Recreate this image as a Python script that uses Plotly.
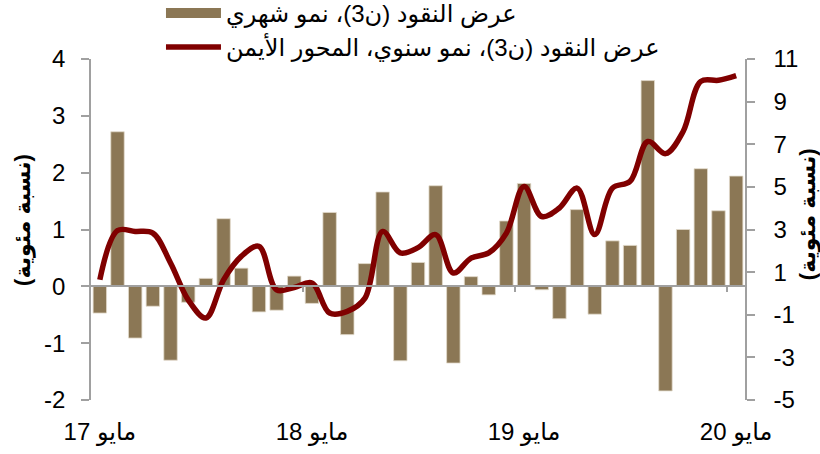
import plotly.graph_objects as go

months = list(range(37))
tick_pos = [0, 12, 24, 36]
tick_labels = ["مايو 17", "مايو 18", "مايو 19", "مايو 20"]

left_ticks = [-2, -1, 0, 1, 2, 3, 4]
right_ticks = [-5, -3, -1, 1, 3, 5, 7, 9, 11]

monthly_growth = [-0.47, 2.72, -0.91, -0.35, -1.30, -0.28, 0.14, 1.19, 0.32, -0.45,
                  -0.42, 0.18, -0.30, 1.30, -0.85, 0.40, 1.66, -1.31, 0.42, 1.77,
                  -1.35, 0.17, -0.15, 1.15, 1.81, -0.06, -0.57, 1.35, -0.49, 0.80,
                  0.72, 3.62, -1.84, 1.00, 2.07, 1.33, 1.94]

annual_growth = [0.64, 2.95, 2.91, 2.83, 1.43, -0.30, -1.15, 0.64, 1.74, 2.21,
                 0.17, 0.28, 0.49, -0.92, -0.84, -0.22, 2.91, 1.90, 2.15, 2.76,
                 0.96, 1.66, 1.90, 2.83, 5.02, 3.61, 4.01, 4.94, 2.76, 4.94,
                 5.26, 7.13, 6.56, 7.60, 9.95, 10.0, 10.22]

name_monthly = "عرض النقود (ن3)، نمو شهري"
name_annual = "عرض النقود (ن3)، نمو سنوي، المحور الأيمن"
axis_title = "(نسبة مئوية)"

BAR = "#8B7755"
LINE = "#800000"
AX = "#A0A0A0"
FONT = "Liberation Sans, Arial, DejaVu Sans, sans-serif"

fig = go.Figure()
fig.add_bar(x=months, y=monthly_growth, xaxis="x", yaxis="y", showlegend=False,
            marker=dict(color=BAR, line=dict(color="#E2DACB", width=0.8)), width=0.76)
# legend proxy for the bar series
fig.add_scatter(x=[None], y=[None], xaxis="x", yaxis="y", mode="lines", name=name_monthly,
                line=dict(color=BAR, width=14))
fig.add_scatter(x=months, y=annual_growth, xaxis="x2", yaxis="y2", mode="lines", name=name_annual,
                line=dict(color=LINE, width=5.5, shape="spline", smoothing=1.0))

title_font = dict(size=22, family=FONT, weight="bold", color="black")

fig.update_layout(
    width=820, height=454,
    margin=dict(l=91, r=75, t=59, b=54, autoexpand=False),
    paper_bgcolor="white", plot_bgcolor="white",
    font=dict(family=FONT, size=24, color="black"),
    bargap=0.24,
    legend=dict(x=0.107, y=1.2, xanchor="left", yanchor="top", bgcolor="rgba(0,0,0,0)",
                font=dict(size=24), itemwidth=55, tracegroupgap=0, traceorder="normal"),
    xaxis=dict(domain=[0, 1], range=[-0.5, 36.5], anchor="free", position=1/3,
               showline=True, linecolor=AX, linewidth=1.5, showgrid=False, zeroline=False,
               ticks="outside", tickvals=[11.5, 23.5, 35.5], ticklen=5, tickcolor=AX,
               tickwidth=1.5, showticklabels=False),
    xaxis2=dict(overlaying="x", range=[-0.5, 36.5], anchor="y2", side="bottom",
                showline=False, showgrid=False, zeroline=False,
                ticks="outside", ticklen=10, tickcolor="rgba(0,0,0,0)",
                tickvals=tick_pos, ticktext=tick_labels, tickfont=dict(size=24)),
    yaxis=dict(domain=[0, 1], range=[-2, 4], tickvals=left_ticks,
               ticktext=[str(v) for v in left_ticks],
               anchor="x", showline=True, linecolor=AX, linewidth=1.5, showgrid=False,
               zeroline=False, ticks="outside", ticklen=8, tickcolor=AX, tickwidth=1.5,
               tickfont=dict(size=24), ticklabelstandoff=11),
    yaxis2=dict(overlaying="y", side="right", anchor="x2", range=[-5, 11],
                tickvals=right_ticks, ticktext=[str(v) for v in right_ticks],
                showline=True, linecolor=AX, linewidth=1.5, showgrid=False, zeroline=False,
                ticks="outside", ticklen=8, tickcolor=AX, tickwidth=1.5,
                tickfont=dict(size=24), ticklabelstandoff=14),
    annotations=[
        dict(text=axis_title, xref="paper", yref="paper", x=-0.104, y=0.528,
             xanchor="center", yanchor="middle", textangle=-90, showarrow=False, font=title_font),
        dict(text=axis_title, xref="paper", yref="paper", x=1.0963, y=0.545,
             xanchor="center", yanchor="middle", textangle=-90, showarrow=False, font=title_font),
    ],
)

fig.write_html("out.html", config={"displayModeBar": False},
               post_script="document.body.style.margin='0';")
